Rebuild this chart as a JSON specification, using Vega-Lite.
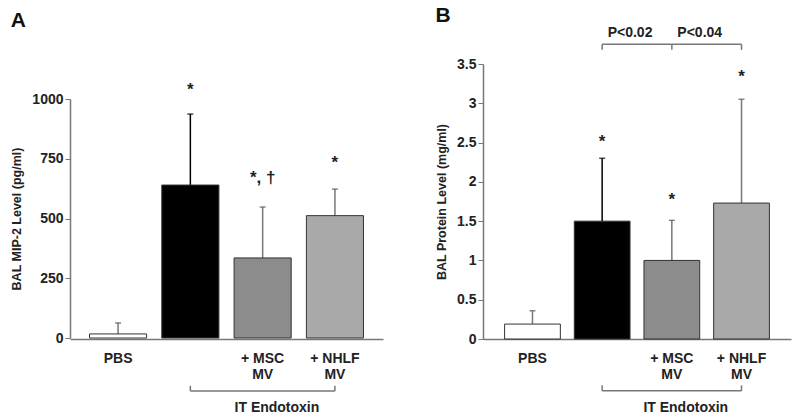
{
  "$schema": "https://vega.github.io/schema/vega-lite/v6.json",
  "background": "white",
  "padding": {"left": 10, "top": 5, "right": 5, "bottom": 5},
  "spacing": 52,
  "config": {
    "view": {"stroke": null},
    "font": "Liberation Sans",
    "axis": {
      "domainColor": "#777777",
      "domainWidth": 1.5,
      "tickColor": "#777777",
      "grid": false,
      "labelFont": "Liberation Sans",
      "labelFontWeight": "bold",
      "labelFontSize": 14,
      "labelColor": "#222222",
      "labelOverlap": false,
      "titleFont": "Liberation Sans",
      "titleFontWeight": "bold",
      "titleFontSize": 12.5,
      "titleColor": "#222222"
    },
    "axisY": {"tickSize": 5, "titlePadding": 8},
    "text": {"font": "Liberation Sans", "fontWeight": "bold", "color": "#222222"}
  },
  "hconcat": [
    {
      "width": 313,
      "height": 275,
      "title": {"text": "A", "anchor": "start", "frame": "bounds", "fontSize": 21, "fontWeight": "bold", "color": "#111111", "offset": 33},
      "encoding": {
        "x": {
          "field": "g", "type": "nominal", "sort": ["PBS", "IT", "MSC", "NHLF"],
          "scale": {"domain": ["PBS", "IT", "MSC", "NHLF"], "paddingInner": 0.21, "paddingOuter": 0.27},
          "axis": {"title": null, "ticks": false, "labelAngle": 0, "labelPadding": 12, "labelLineHeight": 16, "labelBaseline": "top",
            "labelExpr": "datum.value == 'PBS' ? ['PBS', ''] : datum.value == 'IT' ? ['', ''] : datum.value == 'MSC' ? ['+ MSC', 'MV'] : ['+ NHLF', 'MV']"}
        }
      },
      "layer": [
        {
          "data": {"values": [
            {"g": "PBS", "v": 17, "u": 63},
            {"g": "IT", "v": 640, "u": 937},
            {"g": "MSC", "v": 335, "u": 548},
            {"g": "NHLF", "v": 512, "u": 623}
          ]},
          "layer": [
            {
              "mark": {"type": "rule", "strokeWidth": 1.5},
              "encoding": {
                "y": {"field": "v", "type": "quantitative", "scale": {"domain": [0, 1000], "nice": false, "range": [274, 35]},
                  "axis": {"values": [0, 250, 500, 750, 1000], "format": "d", "title": "BAL MIP-2 Level (pg/ml)"}},
                "y2": {"field": "u"},
                "color": {"condition": {"test": "datum.g === 'IT'", "value": "#000000"}, "value": "#777777"}
              }
            },
            {
              "mark": {"type": "tick", "size": 6, "thickness": 1.5},
              "encoding": {
                "y": {"field": "u", "type": "quantitative", "axis": {"values": [0, 250, 500, 750, 1000], "format": "d", "title": "BAL MIP-2 Level (pg/ml)"}},
                "color": {"condition": {"test": "datum.g === 'IT'", "value": "#000000"}, "value": "#555555"}
              }
            },
            {
              "mark": {"type": "bar", "stroke": "#333333", "strokeWidth": 1},
              "encoding": {
                "y": {"field": "v", "type": "quantitative", "axis": {"values": [0, 250, 500, 750, 1000], "format": "d", "title": "BAL MIP-2 Level (pg/ml)"}},
                "fill": {"field": "g", "type": "nominal", "legend": null,
                  "scale": {"domain": ["PBS", "IT", "MSC", "NHLF"], "range": ["#ffffff", "#000000", "#8c8c8c", "#a9a9a9"]}}
              }
            }
          ]
        },
        {
          "data": {"values": [
            {"g": "IT", "v": 1055, "t": "*"},
            {"g": "MSC", "v": 686, "t": "*, †"},
            {"g": "NHLF", "v": 749, "t": "*"}
          ]},
          "mark": {"type": "text", "fontSize": 17, "baseline": "middle", "dy": 4},
          "encoding": {
            "y": {"field": "v", "type": "quantitative", "axis": {"values": [0, 250, 500, 750, 1000], "format": "d", "title": "BAL MIP-2 Level (pg/ml)"}},
            "text": {"field": "t"}
          }
        },
        {
          "data": {"values": [{"g": "IT", "g2": "NHLF", "v": -222}]},
          "mark": {"type": "rule", "color": "#777777", "strokeWidth": 1.5},
          "encoding": {
            "x2": {"field": "g2"},
            "y": {"field": "v", "type": "quantitative", "axis": {"values": [0, 250, 500, 750, 1000], "format": "d", "title": "BAL MIP-2 Level (pg/ml)"}}
          }
        },
        {
          "data": {"values": [{"g": "IT", "v": -222, "v2": -200}, {"g": "NHLF", "v": -222, "v2": -200}]},
          "mark": {"type": "rule", "color": "#777777", "strokeWidth": 1.5},
          "encoding": {
            "y": {"field": "v", "type": "quantitative", "axis": {"values": [0, 250, 500, 750, 1000], "format": "d", "title": "BAL MIP-2 Level (pg/ml)"}},
            "y2": {"field": "v2"}
          }
        },
        {
          "data": {"values": [{"g": "MSC", "v": -293, "t": "IT Endotoxin"}]},
          "mark": {"type": "text", "fontSize": 14, "baseline": "middle"},
          "encoding": {
            "x": {"field": "g", "type": "nominal", "bandPosition": 0.75},
            "y": {"field": "v", "type": "quantitative", "axis": {"values": [0, 250, 500, 750, 1000], "format": "d", "title": "BAL MIP-2 Level (pg/ml)"}},
            "text": {"field": "t"}
          }
        }
      ]
    },
    {
      "width": 308,
      "height": 275,
      "title": {"text": "B", "anchor": "start", "frame": "bounds", "fontSize": 21, "fontWeight": "bold", "color": "#111111", "offset": 0},
      "encoding": {
        "x": {
          "field": "g", "type": "nominal", "sort": ["PBS", "IT", "MSC", "NHLF"],
          "scale": {"domain": ["PBS", "IT", "MSC", "NHLF"], "paddingInner": 0.2, "paddingOuter": 0.31},
          "axis": {"title": null, "ticks": false, "labelAngle": 0, "labelPadding": 12, "labelLineHeight": 16, "labelBaseline": "top",
            "labelExpr": "datum.value == 'PBS' ? ['PBS', ''] : datum.value == 'IT' ? ['', ''] : datum.value == 'MSC' ? ['+ MSC', 'MV'] : ['+ NHLF', 'MV']"}
        }
      },
      "layer": [
        {
          "data": {"values": [
            {"g": "PBS", "v": 0.19, "u": 0.36},
            {"g": "IT", "v": 1.5, "u": 2.3},
            {"g": "MSC", "v": 1.0, "u": 1.51},
            {"g": "NHLF", "v": 1.73, "u": 3.05}
          ]},
          "layer": [
            {
              "mark": {"type": "rule", "strokeWidth": 1.5},
              "encoding": {
                "y": {"field": "v", "type": "quantitative", "scale": {"domain": [0, 3.5], "nice": false},
                  "axis": {"values": [0, 0.5, 1, 1.5, 2, 2.5, 3, 3.5], "format": ".1~f", "title": "BAL Protein Level (mg/ml)"}},
                "y2": {"field": "u"},
                "color": {"condition": {"test": "datum.g === 'IT'", "value": "#000000"}, "value": "#777777"}
              }
            },
            {
              "mark": {"type": "tick", "size": 6, "thickness": 1.5},
              "encoding": {
                "y": {"field": "u", "type": "quantitative", "axis": {"values": [0, 0.5, 1, 1.5, 2, 2.5, 3, 3.5], "format": ".1~f", "title": "BAL Protein Level (mg/ml)"}},
                "color": {"condition": {"test": "datum.g === 'IT'", "value": "#000000"}, "value": "#555555"}
              }
            },
            {
              "mark": {"type": "bar", "stroke": "#333333", "strokeWidth": 1},
              "encoding": {
                "y": {"field": "v", "type": "quantitative", "axis": {"values": [0, 0.5, 1, 1.5, 2, 2.5, 3, 3.5], "format": ".1~f", "title": "BAL Protein Level (mg/ml)"}},
                "fill": {"field": "g", "type": "nominal", "legend": null,
                  "scale": {"domain": ["PBS", "IT", "MSC", "NHLF"], "range": ["#ffffff", "#000000", "#8c8c8c", "#a9a9a9"]}}
              }
            }
          ]
        },
        {
          "data": {"values": [
            {"g": "IT", "v": 2.56, "t": "*"},
            {"g": "MSC", "v": 1.82, "t": "*"},
            {"g": "NHLF", "v": 3.38, "t": "*"}
          ]},
          "mark": {"type": "text", "fontSize": 17, "baseline": "middle", "dy": 4},
          "encoding": {
            "y": {"field": "v", "type": "quantitative", "axis": {"values": [0, 0.5, 1, 1.5, 2, 2.5, 3, 3.5], "format": ".1~f", "title": "BAL Protein Level (mg/ml)"}},
            "text": {"field": "t"}
          }
        },
        {
          "data": {"values": [{"g": "IT", "g2": "NHLF", "v": -0.66}, {"g": "IT", "g2": "NHLF", "v": 3.75}]},
          "mark": {"type": "rule", "color": "#777777", "strokeWidth": 1.5},
          "encoding": {
            "x2": {"field": "g2"},
            "y": {"field": "v", "type": "quantitative", "axis": {"values": [0, 0.5, 1, 1.5, 2, 2.5, 3, 3.5], "format": ".1~f", "title": "BAL Protein Level (mg/ml)"}}
          }
        },
        {
          "data": {"values": [
            {"g": "IT", "v": -0.66, "v2": -0.59}, {"g": "NHLF", "v": -0.66, "v2": -0.59},
            {"g": "IT", "v": 3.75, "v2": 3.68}, {"g": "MSC", "v": 3.75, "v2": 3.68}, {"g": "NHLF", "v": 3.75, "v2": 3.68}
          ]},
          "mark": {"type": "rule", "color": "#777777", "strokeWidth": 1.5},
          "encoding": {
            "y": {"field": "v", "type": "quantitative", "axis": {"values": [0, 0.5, 1, 1.5, 2, 2.5, 3, 3.5], "format": ".1~f", "title": "BAL Protein Level (mg/ml)"}},
            "y2": {"field": "v2"}
          }
        },
        {
          "data": {"values": [{"g": "MSC", "v": -0.88, "t": "IT Endotoxin"}]},
          "mark": {"type": "text", "fontSize": 14, "baseline": "middle"},
          "encoding": {
            "x": {"field": "g", "type": "nominal", "bandPosition": 0.75},
            "y": {"field": "v", "type": "quantitative", "axis": {"values": [0, 0.5, 1, 1.5, 2, 2.5, 3, 3.5], "format": ".1~f", "title": "BAL Protein Level (mg/ml)"}},
            "text": {"field": "t"}
          }
        },
        {
          "data": {"values": [{"g": "IT", "v": 3.89, "t": "P<0.02"}, {"g": "MSC", "v": 3.89, "t": "P<0.04"}]},
          "mark": {"type": "text", "fontSize": 14, "baseline": "middle"},
          "encoding": {
            "x": {"field": "g", "type": "nominal", "bandPosition": 1},
            "y": {"field": "v", "type": "quantitative", "axis": {"values": [0, 0.5, 1, 1.5, 2, 2.5, 3, 3.5], "format": ".1~f", "title": "BAL Protein Level (mg/ml)"}},
            "text": {"field": "t"}
          }
        }
      ]
    }
  ]
}
